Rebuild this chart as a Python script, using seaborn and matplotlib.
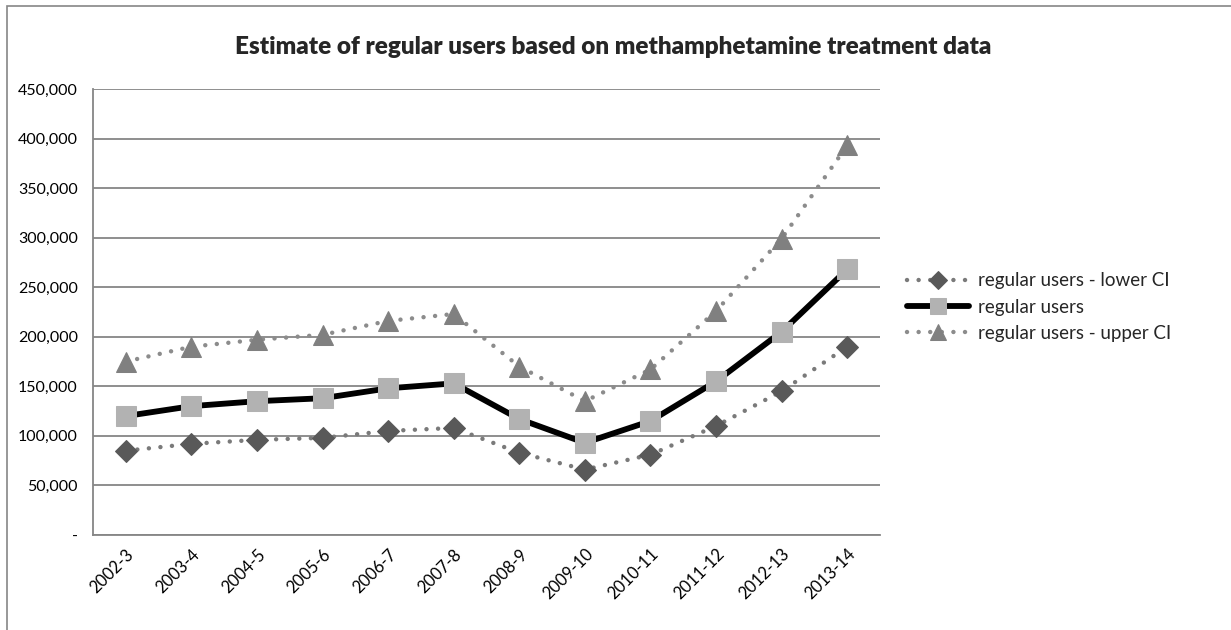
import matplotlib
matplotlib.use("Agg")
import matplotlib.pyplot as plt
import matplotlib.ticker as mticker
import pandas as pd
import seaborn as sns
from matplotlib.patches import Rectangle

years = ["2002-3", "2003-4", "2004-5", "2005-6", "2006-7", "2007-8",
         "2008-9", "2009-10", "2010-11", "2011-12", "2012-13", "2013-14"]
lower_ci = [85000, 92000, 96000, 98000, 105000, 108000,
            83000, 66000, 81000, 110000, 145000, 190000]
regular = [120000, 130000, 135000, 138000, 148000, 153000,
           117000, 93000, 115000, 155000, 205000, 268000]
upper_ci = [175000, 190000, 197000, 202000, 216000, 223000,
            170000, 135000, 167000, 226000, 299000, 393000]

GRID = "#868686"


def main():
    sns.set_theme(style="white")
    plt.rcParams["font.family"] = ["Lato", "DejaVu Sans"]

    df = pd.DataFrame({"year": years, "lower": lower_ci, "regular": regular, "upper": upper_ci})

    fig = plt.figure(figsize=(12.31, 6.3), dpi=100)
    ax = fig.add_axes([93 / 1231, 1 - 535 / 630, (880 - 93) / 1231, (535 - 89) / 630])

    dotted = (0, (0.01, 2.6))
    sns.lineplot(data=df, x="year", y="lower", ax=ax, color="#7a7a7a", lw=3.2,
                 linestyle=dotted, dash_capstyle="round", marker="D", markersize=11,
                 markerfacecolor="#595959", markeredgecolor="#595959",
                 label="regular users - lower CI")
    sns.lineplot(data=df, x="year", y="regular", ax=ax, color="black", lw=4.2,
                 marker="s", markersize=14, markerfacecolor="#b2b2b2",
                 markeredgecolor="#b2b2b2", label="regular users")
    sns.lineplot(data=df, x="year", y="upper", ax=ax, color="#8c8c8c", lw=3.2,
                 linestyle=dotted, dash_capstyle="round", marker="^", markersize=14,
                 markerfacecolor="#808080", markeredgecolor="#808080",
                 label="regular users - upper CI")

    ax.set_xlim(-0.5, len(years) - 0.5)
    ax.set_ylim(0, 450000)
    ax.yaxis.set_major_locator(mticker.MultipleLocator(50000))
    ax.yaxis.set_major_formatter(
        mticker.FuncFormatter(lambda v, p: "-" if v == 0 else f"{int(v):,}"))
    ax.set_xticks(range(len(years)))
    ax.set_xticklabels(years, rotation=45, ha="right", rotation_mode="anchor", fontsize=12)
    ax.set_xticks([i - 0.5 for i in range(len(years) + 1)], minor=True)
    ax.tick_params(axis="x", which="major", length=0, pad=8)
    ax.tick_params(axis="x", which="minor", length=6, width=1.2, direction="out")
    ax.tick_params(axis="y", length=6, width=1.2, direction="out", labelsize=11.5, pad=5)
    ax.tick_params(axis="both", which="both", color=GRID, labelcolor="black")
    ax.set_xlabel("")
    ax.set_ylabel("")
    ax.grid(axis="y", color=GRID, lw=1.3)
    ax.set_axisbelow(True)
    for side in ["top", "right"]:
        ax.spines[side].set_visible(False)
    for side in ["left", "bottom"]:
        ax.spines[side].set_color(GRID)
        ax.spines[side].set_linewidth(1.3)

    handles, labels = ax.get_legend_handles_labels()
    ax.get_legend().remove()
    fig.legend(handles, labels, loc="center left", bbox_to_anchor=(890 / 1231, 1 - 307 / 630),
               frameon=False, fontsize=13.5, handlelength=3.3, handletextpad=0.5,
               labelspacing=0.5, markerscale=0.85)

    fig.text(613 / 1231, 1 - 47 / 630,
             "Estimate of regular users based on methamphetamine treatment data",
             ha="center", va="center", fontsize=17.5, fontweight=800)

    fig.patches.append(Rectangle((7 / 1231, -0.1), 1.2, 1 - 6 / 630 + 0.1,
                                 transform=fig.transFigure, fill=False,
                                 edgecolor=GRID, lw=1.2))

    fig.savefig("out.png", dpi=100)
    plt.close(fig)


if __name__ == "__main__":
    main()
